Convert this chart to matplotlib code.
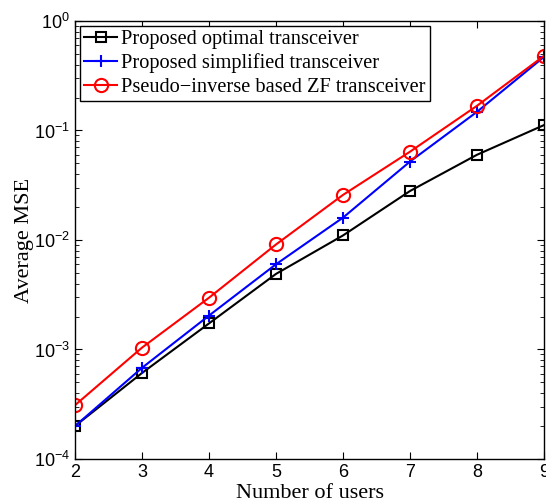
import matplotlib
matplotlib.use("Agg")
import matplotlib.pyplot as plt
from matplotlib.ticker import LogLocator, NullFormatter

# number of users on the x axis
users = [2, 3, 4, 5, 6, 7, 8, 9]

# average MSE
mse_optimal = [2.0e-4, 6.1e-4, 1.73e-3, 4.9e-3, 1.10e-2, 2.8e-2, 6.0e-2, 1.12e-1]
mse_simplified = [2.0e-4, 6.8e-4, 2.04e-3, 6.0e-3, 1.6e-2, 5.2e-2, 1.48e-1, 4.7e-1]
mse_zf = [3.1e-4, 1.04e-3, 2.97e-3, 9.1e-3, 2.58e-2, 6.4e-2, 1.68e-1, 4.8e-1]

labels = ["Proposed optimal transceiver",
          "Proposed simplified transceiver",
          "Pseudo\u2212inverse based ZF transceiver"]

serif = "Liberation Serif"
sans = "Liberation Sans"
plt.rcParams["mathtext.fontset"] = "custom"
plt.rcParams["mathtext.rm"] = sans
plt.rcParams["mathtext.it"] = sans

fig = plt.figure(figsize=(5.46, 5.03), dpi=100)
ax = fig.add_axes([0.1374, 0.0875, 0.8589, 0.8708])

ax.semilogy(users, mse_optimal, color="black", marker="s", mfc="none",
            ms=7, mew=1.5, lw=1.5, label=labels[0])
ax.semilogy(users, mse_simplified, color="blue", marker="+",
            ms=9, mew=1.5, lw=1.5, label=labels[1])
ax.semilogy(users, mse_zf, color="red", marker="o", mfc="none",
            ms=9.5, mew=1.5, lw=1.5, label=labels[2])

ax.set_xlim(2, 9)
ax.set_ylim(1e-4, 1e0)
ax.set_xticks(users)
ax.yaxis.set_major_locator(LogLocator(base=10, numticks=10))
ax.yaxis.set_minor_locator(LogLocator(base=10, subs=range(2, 10), numticks=10))
ax.yaxis.set_minor_formatter(NullFormatter())

ax.tick_params(which="both", direction="in", top=True, right=True)
ax.tick_params(which="major", length=5, labelsize=13)
ax.tick_params(which="minor", length=3)
for t in ax.get_xticklabels() + ax.get_yticklabels():
    t.set_fontfamily(sans)
for s in ax.spines.values():
    s.set_linewidth(1.0)

ax.set_xlabel("Number of users", family=serif, fontsize=16, labelpad=2)
ax.set_ylabel("Average MSE", family=serif, fontsize=16, labelpad=0)

leg = ax.legend(loc="upper left", prop={"family": serif, "size": 14.7},
                fancybox=False, edgecolor="black", framealpha=1,
                borderaxespad=0.25, handlelength=1.6, handletextpad=0.2,
                labelspacing=0.2, borderpad=0.2)
leg.get_frame().set_linewidth(1.0)

fig.savefig("out.png", dpi=100)
